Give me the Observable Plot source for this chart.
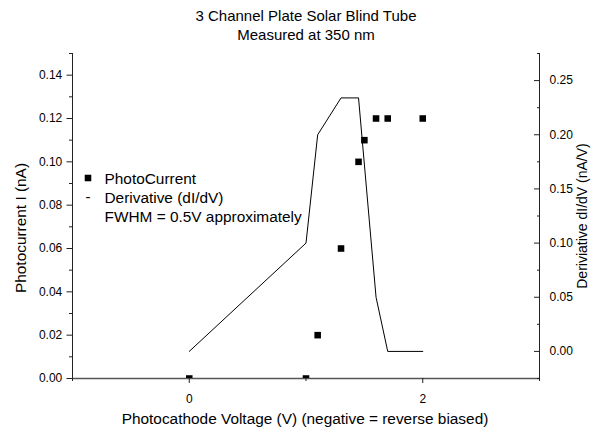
<!DOCTYPE html>
<html><head><meta charset="utf-8">
<script src="https://cdn.jsdelivr.net/npm/d3@7"></script>
<script src="https://cdn.jsdelivr.net/npm/@observablehq/plot@0.6"></script>
<style>
body{margin:0;background:#fff;font-family:"Liberation Sans",Arial,Helvetica,sans-serif;color:#000;}
#title{width:591px;box-sizing:border-box;padding:6px 0 0 21px;text-align:center;font-size:15px;line-height:19px;height:44px;}
</style></head><body>
<div id="title"></div>
<div id="chart"></div>
<script>
// ---- data ----
const titleLines = ["3 Channel Plate Solar Blind Tube", "Measured at 350 nm"];
const voltage = [0, 1, 1.1, 1.3, 1.45, 1.5, 1.6, 1.7, 2.0];
const photocurrent = [0, 0, 0.02, 0.06, 0.10, 0.11, 0.12, 0.12, 0.12];
const derivVoltage = [0, 1, 1.1, 1.3, 1.45, 1.6, 1.7, 2.0];
const derivative = [0, 0.10, 0.20, 0.234, 0.234, 0.05, 0, 0];
const xTicks = [0, 2];
const xMinorTicks = [-1, 1, 3];
const leftTicks = [0, 0.02, 0.04, 0.06, 0.08, 0.10, 0.12, 0.14];
const leftMinorTicks = [0.01, 0.03, 0.05, 0.07, 0.09, 0.11, 0.13, 0.15];
const rightTicks = [0, 0.05, 0.10, 0.15, 0.20, 0.25];
const rightMinorTicks = [-0.025, 0.025, 0.075, 0.125, 0.175, 0.225, 0.275];
const legendLabels = ["PhotoCurrent", "Derivative (dI/dV)", "FWHM = 0.5V approximately"];
const xLabel = "Photocathode Voltage (V) (negative = reverse biased)";
const yLabel = "Photocurrent I (nA)";
const y2Label = "Deriviative dI/dV (nA/V)";

const xDomain = [-1, 3];
const yDomain = [0, 0.15];
const y2Domain = [-0.025, 0.275];

document.getElementById("title").innerHTML = titleLines.join("<br>");

const toLeft = d => yDomain[0] + (d - y2Domain[0]) / (y2Domain[1] - y2Domain[0]) * (yDomain[1] - yDomain[0]);
const fromLeft = v => y2Domain[0] + (v - yDomain[0]) / (yDomain[1] - yDomain[0]) * (y2Domain[1] - y2Domain[0]);

const currentData = voltage.map((v, i) => ({v, i: photocurrent[i]}));
const derivData = derivVoltage.map((v, i) => ({v, d: derivative[i]}));

const font = "Liberation Sans, Arial, Helvetica, sans-serif";

const chart = Plot.plot({
  width: 591,
  height: 389,
  marginLeft: 72,
  marginRight: 52,
  marginTop: 9,
  marginBottom: 55,
  style: {fontFamily: font, fontSize: "12px", background: "#fff", color: "#000"},
  x: {domain: xDomain},
  y: {domain: yDomain},
  marks: [
    // frame lines
    Plot.ruleX(xDomain, {stroke: "#222", strokeWidth: 1}),
    Plot.ruleY([yDomain[0]], {stroke: "#555", strokeWidth: 1.6}),
    // left axis
    Plot.axisY(leftTicks, {anchor: "left", tickSize: 5.5, tickPadding: 4.7, tickFormat: d => d.toFixed(2), fontSize: 12, label: null, stroke: "#222"}),
    Plot.axisY(leftMinorTicks, {anchor: "left", tickSize: 3, fill: "none", label: null, stroke: "#222"}),
    // right axis (derivative), ticks point inward
    Plot.axisY(rightTicks.map(toLeft), {anchor: "right", tickSize: -6, fill: "none", label: null, stroke: "#222"}),
    Plot.axisY(rightMinorTicks.map(toLeft), {anchor: "right", tickSize: -3, fill: "none", label: null, stroke: "#222"}),
    Plot.axisY(rightTicks.map(toLeft), {anchor: "right", tickSize: 0, tickPadding: 10, tickFormat: v => Math.abs(fromLeft(v)).toFixed(2), fontSize: 12, label: null}),
    // bottom axis
    Plot.axisX(xTicks, {anchor: "bottom", tickSize: 5, tickPadding: 11, tickFormat: d => String(d), fontSize: 12, label: null, stroke: "#222"}),
    Plot.axisX(xMinorTicks, {anchor: "bottom", tickSize: 3, fill: "none", label: null, stroke: "#222"}),
    // derivative line
    Plot.line(derivData, {x: "v", y: d => toLeft(d.d), stroke: "#000", strokeWidth: 1}),
    // photocurrent squares
    Plot.dot(currentData, {x: "v", y: "i", symbol: "square", r: 3.7, fill: "#000", stroke: "none", clip: true}),
    // legend
    Plot.dot([legendLabels[0]], {frameAnchor: "top-left", dx: 15.5, dy: 124.5, symbol: "square", r: 3.7, fill: "#000", stroke: "none"}),
    Plot.text(["-"], {frameAnchor: "top-left", dx: 15.5, dy: 143.5, text: d => d, fontSize: 15, textAnchor: "middle", lineAnchor: "middle"}),
    Plot.text([legendLabels.join("\n")], {frameAnchor: "top-left", dx: 32, dy: 143.5, text: d => d, fontSize: 15.4, lineHeight: 1.234, textAnchor: "start", lineAnchor: "middle"}),
    // axis titles
    Plot.text([yLabel], {frameAnchor: "left", dx: -51, dy: 12, rotate: -90, text: d => d, fontSize: 15.4, textAnchor: "middle", lineAnchor: "middle"}),
    Plot.text([y2Label], {frameAnchor: "right", dx: 43.5, dy: 0, rotate: -90, text: d => d, fontSize: 14, textAnchor: "middle", lineAnchor: "middle"}),
    Plot.text([xLabel], {frameAnchor: "bottom", dx: -1, dy: 41, text: d => d, fontSize: 15.4, textAnchor: "middle", lineAnchor: "middle"})
  ]
});
document.getElementById("chart").appendChild(chart);
</script>
</body></html>
